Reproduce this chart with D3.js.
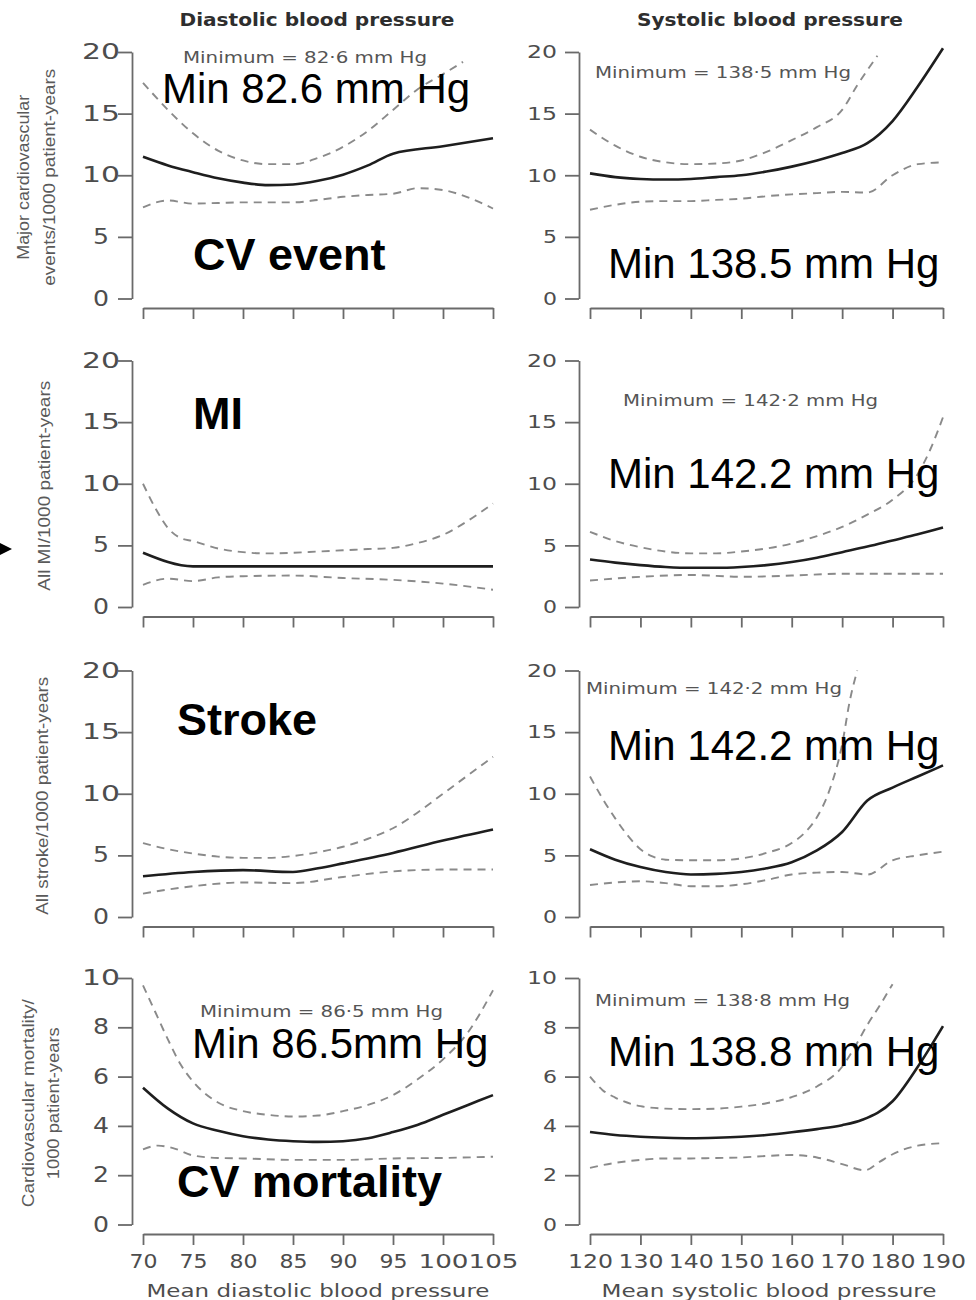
<!DOCTYPE html>
<html>
<head>
<meta charset="utf-8">
<script src="https://cdn.jsdelivr.net/npm/d3@7"></script>
<style>
  body { margin: 0; background: #fff; }
  svg { display: block; }
</style>
</head>
<body>
<svg id="chart" width="976" height="1300"></svg>
<script>
// ---- tick values ----
const diaTicks = [70, 75, 80, 85, 90, 95, 100, 105];
const sysTicks = [120, 130, 140, 150, 160, 170, 180, 190];
const rateTicks = [0, 5, 10, 15, 20];
const mortTicks = [0, 2, 4, 6, 8, 10];

// ---- major cardiovascular events / 1000 patient-years ----
const cvDiaEst = [[70,11.5],[72.5,10.8],[75,10.25],[77.5,9.75],[80,9.4],[82.5,9.2],[85,9.25],[87.5,9.55],[90,10.05],[92.5,10.8],[95,11.75],[100,12.35],[105,13.0]];
const cvDiaUp  = [[70,17.5],[72.5,15.3],[75,13.4],[77.5,12.0],[80,11.2],[82.5,10.9],[85,10.9],[87.5,11.4],[90,12.3],[92.5,13.6],[95,15.3],[97.5,17.0],[100,18.2],[102,19.2]];
const cvDiaLo  = [[70,7.4],[72.5,7.95],[75,7.7],[77.5,7.75],[80,7.8],[82.5,7.8],[85,7.8],[87.5,8.0],[90,8.25],[92.5,8.4],[95,8.5],[97.5,8.95],[100,8.8],[102.5,8.2],[105,7.3]];
const cvSysEst = [[120,10.15],[125,9.85],[130,9.7],[135,9.65],[140,9.7],[145,9.85],[150,10.0],[155,10.3],[160,10.7],[165,11.2],[170,11.8],[175,12.6],[180,14.4],[185,17.2],[190,20.3]];
const cvSysUp  = [[120,13.7],[125,12.4],[130,11.5],[135,11.05],[140,10.9],[145,10.95],[150,11.2],[155,11.9],[160,12.85],[165,13.9],[170,15.3],[173,17.3],[177,19.7]];
const cvSysLo  = [[120,7.2],[125,7.6],[130,7.85],[135,7.9],[140,7.9],[145,8.0],[150,8.1],[155,8.3],[160,8.45],[165,8.55],[170,8.65],[175,8.6],[180,10.0],[185,10.9],[190,11.05]];

// ---- all MI / 1000 patient-years ----
const miDiaEst = [[70,4.4],[75,3.3],[80,3.3],[85,3.3],[90,3.3],[95,3.3],[100,3.3],[105,3.3]];
const miDiaUp  = [[70,10.0],[71.25,8.0],[72.5,6.4],[73.75,5.6],[75,5.35],[77.5,4.75],[80,4.45],[82.5,4.35],[85,4.4],[87.5,4.5],[90,4.6],[92.5,4.7],[95,4.8],[97.5,5.2],[100,5.85],[102.5,7.0],[105,8.4]];
const miDiaLo  = [[70,1.8],[72.5,2.3],[75,2.1],[77.5,2.4],[80,2.5],[85,2.55],[90,2.35],[95,2.2],[100,1.9],[105,1.4]];
const miSysEst = [[120,3.85],[125,3.6],[130,3.4],[135,3.25],[140,3.18],[145,3.18],[150,3.25],[155,3.4],[160,3.65],[165,4.0],[170,4.45],[175,4.9],[180,5.4],[185,5.9],[190,6.45]];
const miSysUp  = [[120,6.1],[125,5.35],[130,4.85],[135,4.5],[140,4.35],[145,4.35],[150,4.5],[155,4.75],[160,5.15],[165,5.75],[170,6.5],[175,7.5],[180,8.7],[185,10.8],[187.5,12.8],[190,15.4]];
const miSysLo  = [[120,2.15],[130,2.45],[140,2.6],[150,2.45],[160,2.55],[170,2.7],[180,2.7],[190,2.7]];

// ---- all stroke / 1000 patient-years ----
const strDiaEst = [[70,3.3],[75,3.65],[80,3.8],[85,3.65],[87.5,3.95],[90,4.35],[95,5.2],[100,6.2],[105,7.1]];
const strDiaUp  = [[70,6.0],[72.5,5.5],[75,5.15],[77.5,4.9],[80,4.8],[82.5,4.8],[85,4.95],[87.5,5.25],[90,5.7],[92.5,6.35],[95,7.2],[97.5,8.5],[100,10.0],[102.5,11.5],[105,13.0]];
const strDiaLo  = [[70,1.9],[75,2.5],[80,2.8],[85,2.75],[90,3.25],[95,3.7],[100,3.85],[105,3.85]];
const strSysEst = [[120,5.5],[125,4.65],[130,4.05],[135,3.65],[140,3.45],[145,3.5],[150,3.65],[155,3.95],[160,4.45],[165,5.4],[170,6.9],[175,9.45],[180,10.5],[185,11.4],[190,12.3]];
const strSysUp  = [[120,11.4],[122.5,9.6],[125,8.0],[127.5,6.6],[130,5.5],[132.5,4.9],[135,4.65],[140,4.6],[145,4.6],[150,4.75],[155,5.2],[160,6.0],[162.5,6.8],[165,8.1],[167.5,10.3],[170,14.0],[171.5,17.5],[173,20.0]];
const strSysLo  = [[120,2.6],[125,2.8],[130,2.9],[135,2.75],[140,2.5],[145,2.5],[150,2.65],[155,3.0],[160,3.45],[165,3.6],[170,3.65],[175,3.45],[180,4.6],[185,5.0],[190,5.3]];

// ---- cardiovascular mortality / 1000 patient-years ----
const mortDiaEst = [[70,5.55],[72.5,4.7],[75,4.1],[77.5,3.8],[80,3.58],[82.5,3.45],[85,3.38],[87.5,3.35],[90,3.38],[92.5,3.5],[95,3.75],[97.5,4.05],[100,4.45],[102.5,4.85],[105,5.25]];
const mortDiaUp  = [[70,9.7],[71.25,8.6],[72.5,7.5],[73.75,6.5],[75,5.8],[77.5,4.95],[80,4.6],[82.5,4.45],[85,4.38],[87.5,4.42],[90,4.6],[92.5,4.85],[95,5.25],[97.5,5.9],[100,6.7],[102.5,7.8],[105,9.5]];
const mortDiaLo  = [[70,3.05],[71.5,3.2],[73,3.1],[75,2.8],[77.5,2.7],[80,2.68],[85,2.62],[90,2.62],[95,2.68],[100,2.7],[105,2.75]];
const mortSysEst = [[120,3.75],[125,3.63],[130,3.56],[135,3.52],[140,3.5],[145,3.52],[150,3.56],[155,3.63],[160,3.74],[165,3.87],[170,4.03],[174,4.25],[180,5.0],[185,6.4],[190,8.05]];
const mortSysUp  = [[120,6.0],[122.5,5.45],[125,5.15],[130,4.8],[135,4.7],[140,4.68],[145,4.7],[150,4.78],[155,4.92],[160,5.17],[165,5.6],[170,6.4],[172.5,7.2],[175,8.1],[177.5,8.9],[180,9.75]];
const mortSysLo  = [[120,2.3],[125,2.5],[130,2.62],[135,2.68],[140,2.68],[145,2.7],[150,2.72],[155,2.78],[160,2.82],[165,2.72],[170,2.45],[174.5,2.2],[177.5,2.55],[180,2.85],[185,3.2],[190,3.3]];

// ---- text ----
const columnTitles = ["Diastolic blood pressure", "Systolic blood pressure"];
const xTitles = ["Mean diastolic blood pressure", "Mean systolic blood pressure"];
const yTitles = [
  ["Major cardiovascular", "events/1000 patient-years"],
  ["All MI/1000 patient-years"],
  ["All stroke/1000 patient-years"],
  ["Cardiovascular mortality/", "1000 patient-years"]
];
const minimumNotes = [
  ["Minimum = 82\u00b76 mm Hg", "Minimum = 138\u00b75 mm Hg"],
  [null, "Minimum = 142\u00b72 mm Hg"],
  [null, "Minimum = 142\u00b72 mm Hg"],
  ["Minimum = 86\u00b75 mm Hg", "Minimum = 138\u00b78 mm Hg"]
];
const bigNotes = [
  ["Min 82.6 mm Hg", "Min 138.5 mm Hg"],
  [null, "Min 142.2 mm Hg"],
  [null, "Min 142.2 mm Hg"],
  ["Min 86.5mm Hg", "Min 138.8 mm Hg"]
];
const outcomeLabels = ["CV event", "MI", "Stroke", "CV mortality"];

// ---- layout ----
const svg = d3.select("#chart");
const rowTop = [52, 360.5, 670.5, 978];
const rowH = 246.5;
const cols = [
  { domain: [70, 105], range: [143, 493], ticks: diaTicks, axisX: 132, yLabFont: 20.5 },
  { domain: [120, 190], range: [590, 943], ticks: sysTicks, axisX: 579, yLabFont: 18 }
];
const rows = [
  { ymax: 20, yticks: rateTicks, series: [[cvDiaEst, cvDiaUp, cvDiaLo], [cvSysEst, cvSysUp, cvSysLo]] },
  { ymax: 20, yticks: rateTicks, series: [[miDiaEst, miDiaUp, miDiaLo], [miSysEst, miSysUp, miSysLo]] },
  { ymax: 20, yticks: rateTicks, series: [[strDiaEst, strDiaUp, strDiaLo], [strSysEst, strSysUp, strSysLo]] },
  { ymax: 10, yticks: mortTicks, series: [[mortDiaEst, mortDiaUp, mortDiaLo], [mortSysEst, mortSysUp, mortSysLo]] }
];

const axisColor = "#6a6a6a";
const labelColor = "#4d4d4d";
const numFont = "DejaVu Sans, Verdana, sans-serif";

function styleAxis(g) {
  g.selectAll("path.domain").attr("stroke", axisColor).attr("stroke-width", 1.8);
  g.selectAll(".tick line").attr("stroke", axisColor).attr("stroke-width", 1.8);
}

rows.forEach((row, ri) => {
  const top = rowTop[ri], bottom = top + rowH;
  const y = d3.scaleLinear().domain([0, row.ymax]).range([bottom, top]);

  cols.forEach((col, ci) => {
    const x = d3.scaleLinear().domain(col.domain).range(col.range);
    const panel = svg.append("g");

    // y axis
    const yAxis = panel.append("g")
      .attr("transform", `translate(${col.axisX},0)`)
      .call(d3.axisLeft(y).tickValues(row.yticks).tickSize(14).tickSizeOuter(0).tickPadding(3));
    styleAxis(yAxis);
    yAxis.selectAll(".tick text")
      .attr("font-family", numFont)
      .attr("font-size", col.yLabFont)
      .attr("fill", labelColor)
      .each(function (d) {
        const t = d3.select(this);
        const s = String(d);
        if (ci === 0) {
          t.attr("text-anchor", "middle").attr("x", -31)
           .attr("textLength", s.length === 1 ? 16 : 38);
        } else {
          t.attr("text-anchor", "end").attr("x", -22)
           .attr("textLength", s.length === 1 ? 14 : 30);
        }
        t.attr("lengthAdjust", "spacingAndGlyphs");
      });

    // x axis (offset below the plot)
    const lastRow = ri === rows.length - 1;
    const xAxis = panel.append("g")
      .attr("transform", `translate(0,${bottom + 9.5})`)
      .call(d3.axisBottom(x).tickValues(col.ticks).tickSize(11).tickSizeOuter(0).tickPadding(10)
        .tickFormat(lastRow ? d3.format("d") : () => ""));
    styleAxis(xAxis);
    xAxis.selectAll(".tick text")
      .attr("font-family", numFont)
      .attr("font-size", 19)
      .attr("fill", labelColor)
      .each(function (d) {
        const s = String(d);
        if (!s.length) return;
        const len = ci === 0 ? (s.length === 2 ? 28 : 50) : 45;
        d3.select(this).attr("textLength", len).attr("lengthAdjust", "spacingAndGlyphs");
      });

    // curves
    const line = d3.line().x(d => x(d[0])).y(d => y(d[1])).curve(d3.curveMonotoneX);
    const [est, up, lo] = row.series[ci];
    [up, lo].forEach(band => {
      panel.append("path").datum(band)
        .attr("d", line)
        .attr("fill", "none")
        .attr("stroke", "#8a8a8a")
        .attr("stroke-width", 1.9)
        .attr("stroke-dasharray", "8,6");
    });
    panel.append("path").datum(est)
      .attr("d", line)
      .attr("fill", "none")
      .attr("stroke", "#1e1e1e")
      .attr("stroke-width", 2.6);
  });
});

// column titles
const titleX = [317, 770];
columnTitles.forEach((t, i) => {
  svg.append("text")
    .attr("x", titleX[i]).attr("y", 26)
    .attr("text-anchor", "middle")
    .attr("font-family", numFont)
    .attr("font-weight", "bold")
    .attr("font-size", 17)
    .attr("fill", "#2e2e2e")
    .attr("textLength", i === 0 ? 275 : 266)
    .attr("lengthAdjust", "spacingAndGlyphs")
    .text(t);
});

// x axis titles
const xTitleX = [318, 769];
xTitles.forEach((t, i) => {
  svg.append("text")
    .attr("x", xTitleX[i]).attr("y", 1297)
    .attr("text-anchor", "middle")
    .attr("font-family", numFont)
    .attr("font-size", 17)
    .attr("fill", labelColor)
    .attr("textLength", i === 0 ? 343 : 335)
    .attr("lengthAdjust", "spacingAndGlyphs")
    .text(t);
});

// y axis titles (rotated)
const yTitleBase = [[29, 55], [50], [48], [34, 59]];
const yTitleLen = [[165, 217], [210], [238], [208, 152]];
yTitles.forEach((lines, ri) => {
  const cy = rowTop[ri] + rowH / 2 + 2;
  lines.forEach((t, li) => {
    svg.append("text")
      .attr("transform", `translate(${yTitleBase[ri][li]},${cy}) rotate(-90)`)
      .attr("text-anchor", "middle")
      .attr("font-family", "Liberation Sans, Arial, sans-serif")
      .attr("font-size", 17)
      .attr("fill", "#5a5a5a")
      .attr("textLength", yTitleLen[ri][li])
      .attr("lengthAdjust", "spacingAndGlyphs")
      .text(t);
  });
});

// "Minimum = ..." annotations
const minPos = [
  [[183, 63, 244], [595, 78, 256]],
  [null, [623, 406, 255]],
  [null, [586, 694, 256]],
  [[200, 1017, 243], [595, 1006, 255]]
];
minimumNotes.forEach((pair, ri) => {
  pair.forEach((t, ci) => {
    if (!t) return;
    const [px, py, len] = minPos[ri][ci];
    svg.append("text")
      .attr("x", px).attr("y", py)
      .attr("font-family", numFont)
      .attr("font-size", 15.5)
      .attr("fill", "#555")
      .attr("textLength", len)
      .attr("lengthAdjust", "spacingAndGlyphs")
      .text(t);
  });
});

// large overlay labels
const bigPos = [
  [[162, 103], [608, 278]],
  [null, [608, 488]],
  [null, [608, 760]],
  [[192, 1058], [608, 1066]]
];
bigNotes.forEach((pair, ri) => {
  pair.forEach((t, ci) => {
    if (!t) return;
    svg.append("text")
      .attr("x", bigPos[ri][ci][0]).attr("y", bigPos[ri][ci][1])
      .attr("font-family", "Liberation Sans, Arial, sans-serif")
      .attr("font-size", 42)
      .attr("fill", "#000")
      .text(t);
  });
});

const outcomePos = [[193, 270], [193, 429], [177, 735], [177, 1197]];
outcomeLabels.forEach((t, i) => {
  svg.append("text")
    .attr("x", outcomePos[i][0]).attr("y", outcomePos[i][1])
    .attr("font-family", "Liberation Sans, Arial, sans-serif")
    .attr("font-weight", "bold")
    .attr("font-size", 45)
    .attr("fill", "#000")
    .text(t);
});

// pointer marker at the left edge
svg.append("path")
  .attr("d", "M0,543 L12,549 L0,555 Z")
  .attr("fill", "#000");
</script>
</body>
</html>
